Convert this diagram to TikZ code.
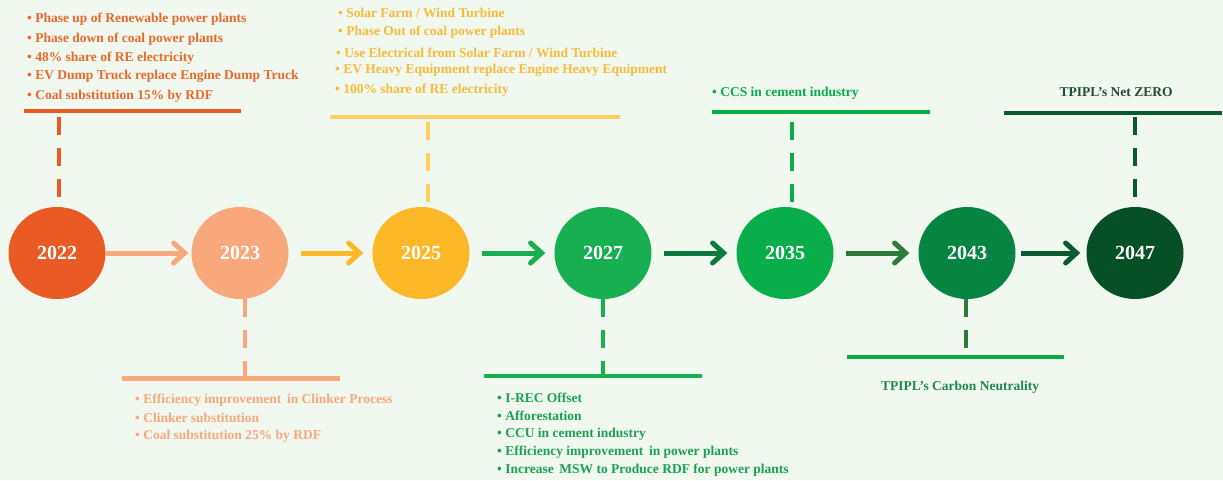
\documentclass[tikz,border=0pt]{standalone}
\usepackage{fontspec}
\setmainfont{Liberation Serif}
\usetikzlibrary{arrows.meta,shapes.geometric}
\definecolor{bg}{HTML}{F1F8EF}
\definecolor{c22}{HTML}{E95A24}
\definecolor{c23}{HTML}{F9A87C}
\definecolor{c25}{HTML}{FDB827}
\definecolor{c25bar}{HTML}{FDD060}
\definecolor{c27}{HTML}{17AF50}
\definecolor{c35}{HTML}{09AE4B}
\definecolor{c43}{HTML}{068442}
\definecolor{c47}{HTML}{064F27}
\definecolor{a27}{HTML}{0C7A3E}
\definecolor{a35}{HTML}{2E7A3A}
\definecolor{a43}{HTML}{0A5A30}
\definecolor{t22}{HTML}{E8692A}
\definecolor{t25}{HTML}{F8BC3B}
\definecolor{t27}{HTML}{1BA24F}
\definecolor{tnz}{HTML}{1F4E33}
\definecolor{tcn}{HTML}{1E8A4A}
\begin{document}
\begin{tikzpicture}[x=1pt,y=-1pt,
  year/.style={ellipse, minimum width=97pt, minimum height=92pt, inner sep=0pt, text=white, font=\bfseries\fontsize{20}{24}\selectfont},
  item/.style={anchor=west, inner sep=0pt, font=\bfseries\fontsize{13.5}{16}\selectfont},
  bar/.style={line width=4.5pt},
  vdash/.style={line width=3.5pt, dash pattern=on 18pt off 13pt},
  flow/.style={line width=5pt, -{Straight Barb[length=11pt,width=20pt,line width=5pt,line cap=round]}}
]
\fill[bg] (0,0) rectangle (1223,480);
\useasboundingbox (0,0) rectangle (1223,480);

% year circles
\node[year, fill=c22] (y22) at (57,253) {2022};
\node[year, fill=c23] (y23) at (240,253) {2023};
\node[year, fill=c25] (y25) at (421,253) {2025};
\node[year, fill=c27] (y27) at (603,253) {2027};
\node[year, fill=c35] (y35) at (785,253) {2035};
\node[year, fill=c43] (y43) at (967,253) {2043};
\node[year, fill=c47] (y47) at (1135,253) {2047};

% arrows
\draw[flow, c23] (y22.east) -- ([xshift=-3pt]y23.west);
\draw[flow, c25] ([xshift=12pt]y23.east) -- ([xshift=-9pt]y25.west);
\draw[flow, c27] ([xshift=12pt]y25.east) -- ([xshift=-9pt]y27.west);
\draw[flow, a27] ([xshift=12pt]y27.east) -- ([xshift=-9pt]y35.west);
\draw[flow, a35] ([xshift=12pt]y35.east) -- ([xshift=-9pt]y43.west);
\draw[flow, a43] ([xshift=5pt]y43.east) -- ([xshift=-6pt]y47.west);

% 2022 top
\coordinate (b22l) at (24,111); \coordinate (b22r) at (241,111);
\draw[bar, c22] (b22l) -- (b22r);
\coordinate (d22) at (59,117);
\draw[vdash, c22] (d22) -- (y22.north -| d22);
\node[item, text=t22] (l22a) at (27,19) {• Phase up of Renewable power plants};
\node[item, text=t22] (l22b) at (27,39) {• Phase down of coal power plants};
\node[item, text=t22] (l22c) at (27,58) {• 48\% share of RE electricity};
\node[item, text=t22] (l22d) at (27,76) {• EV Dump Truck replace Engine Dump Truck};
\node[item, text=t22] (l22e) at (27,96) {• Coal substitution 15\% by RDF};

% 2023 bottom
\coordinate (b23l) at (122,378.5); \coordinate (b23r) at (340,378.5);
\draw[bar, c23] (b23l) -- (b23r);
\coordinate (d23) at (245,376);
\draw[vdash, c23] (d23 |- y23.south) -- (d23);
\node[item, text=c23] (l23a) at (135,400) {• Efficiency improvement\, in Clinker Process};
\node[item, text=c23] (l23b) at (135,418) {• Clinker substitution};
\node[item, text=c23] (l23c) at (135,436) {• Coal substitution 25\% by RDF};

% 2025 top
\coordinate (b25l) at (330,117); \coordinate (b25r) at (620,117);
\draw[bar, c25bar] (b25l) -- (b25r);
\coordinate (d25) at (428,122);
\draw[vdash, c25bar] (d25) -- (y25.north -| d25);
\node[item, text=t25] (l25a) at (338,13) {• Solar Farm / Wind Turbine};
\node[item, text=t25] (l25b) at (338,32) {• Phase Out of coal power plants};
\node[item, text=t25] (l25c) at (336,53) {• Use Electrical from Solar Farm / Wind Turbine};
\node[item, text=t25] (l25d) at (335,70) {• EV Heavy Equipment replace Engine Heavy Equipment};
\node[item, text=t25] (l25e) at (335,90) {• 100\% share of RE electricity};

% 2027 bottom
\coordinate (b27l) at (484,376); \coordinate (b27r) at (702,376);
\draw[bar, c27] (b27l) -- (b27r);
\coordinate (d27) at (603,376);
\draw[vdash, c27] (d27 |- y27.south) -- (d27);
\node[item, text=t27] (l27a) at (497,398) {• I-REC Offset};
\node[item, text=t27] (l27b) at (497,416) {• Afforestation};
\node[item, text=t27] (l27c) at (497,434) {• CCU in cement industry};
\node[item, text=t27] (l27d) at (497,452) {• Efficiency improvement\, in power plants};
\node[item, text=t27] (l27e) at (497,470) {• Increase\, MSW to Produce RDF for power plants};

% 2035 top
\coordinate (b35l) at (712,112); \coordinate (b35r) at (930,112);
\draw[bar, c35] (b35l) -- (b35r);
\coordinate (d35) at (792,122);
\draw[vdash, c35] (d35) -- (y35.north -| d35);
\node[item, text=c35] (l35a) at (712,93) {• CCS in cement industry};

% 2043 bottom
\coordinate (b43l) at (847,357); \coordinate (b43r) at (1064,357);
\draw[bar, c35] (b43l) -- (b43r);
\coordinate (d43) at (966,350);
\draw[vdash, a35] (d43 |- y43.south) -- (d43);
\node[item, anchor=center, text=tcn] (l43a) at (960,387) {TPIPL’s Carbon Neutrality};

% 2047 top
\coordinate (b47l) at (1004,113); \coordinate (b47r) at (1222,113);
\draw[bar, a43] (b47l) -- (b47r);
\coordinate (d47) at (1135,117);
\draw[vdash, a43] (d47) -- (y47.north -| d47);
\node[item, anchor=center, text=tnz] (l47a) at (1116,92) {TPIPL’s Net ZERO};
\end{tikzpicture}
\end{document}
